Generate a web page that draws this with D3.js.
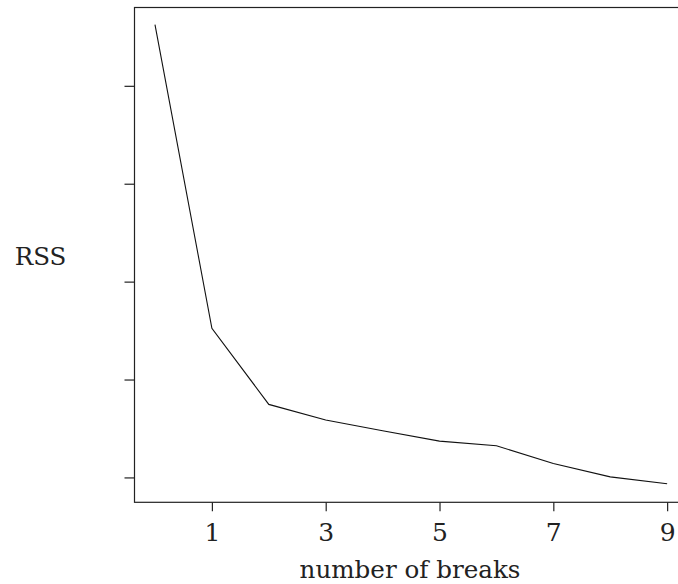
<!DOCTYPE html>
<html>
<head>
<meta charset="utf-8">
<script src="https://cdn.jsdelivr.net/npm/d3@7"></script>
<style>
  body { margin: 0; background: #fff; }
</style>
</head>
<body>
<svg id="chart" width="678" height="584"></svg>
<script>
/* data */
var breaks = [0, 1, 2, 3, 4, 5, 6, 7, 8, 9];
var rss = [5.625, 2.524, 1.746, 1.586, 1.476, 1.371, 1.323, 1.143, 1.006, 0.935];
var xTicks = [1, 3, 5, 7, 9];
var yTicks = [1, 2, 3, 4, 5];

var serif = "'DejaVu Serif', serif";

var svg = d3.select('#chart'),
    margin = {top: 7.5, left: 134.5},
    width = 580,
    height = 494.8;

// x: 0 -> 155px, 9 -> 667px
var x = d3.scaleLinear().domain([-0.36, 9.27]).range([0, 548]),
    y = d3.scaleLinear().domain([0.746, 5.80]).range([height, 0]);

var g = svg.append('g')
    .attr('transform', 'translate(' + margin.left + ',' + margin.top + ')');

/* box (right side runs off the page) */
g.append('rect')
    .attr('x', 0).attr('y', 0)
    .attr('width', width).attr('height', height)
    .attr('fill', 'none')
    .attr('stroke', '#222')
    .attr('stroke-width', 1.2);

/* x axis */
var xAxis = g.append('g')
    .attr('transform', 'translate(0,' + height + ')')
    .call(d3.axisBottom(x).tickValues(xTicks).tickSize(9).tickPadding(11.5));
xAxis.attr('font-family', serif).attr('font-size', 25);
xAxis.select('.domain').remove();
xAxis.selectAll('line').attr('stroke', '#222').attr('stroke-width', 1.2);
xAxis.selectAll('text').attr('fill', '#222');

/* y axis, no labels */
var yAxis = g.append('g')
    .call(d3.axisLeft(y).tickValues(yTicks).tickSize(10).tickFormat(''));
yAxis.select('.domain').remove();
yAxis.selectAll('line').attr('stroke', '#222').attr('stroke-width', 1.2);

/* line */
var line = d3.line()
    .x(function(d, i) { return x(breaks[i]); })
    .y(function(d) { return y(d); });

g.append('path')
    .datum(rss)
    .attr('fill', 'none')
    .attr('stroke', '#111')
    .attr('stroke-width', 1.1)
    .attr('d', line);

/* axis titles */
svg.append('text')
    .attr('x', 410).attr('y', 578)
    .attr('text-anchor', 'middle')
    .attr('font-family', serif)
    .attr('font-size', 24.6)
    .attr('fill', '#222')
    .text('number of breaks');

svg.append('text')
    .attr('x', 40.5).attr('y', 265)
    .attr('text-anchor', 'middle')
    .attr('font-family', serif)
    .attr('font-size', 24.5)
    .attr('fill', '#222')
    .text('RSS');
</script>
</body>
</html>
